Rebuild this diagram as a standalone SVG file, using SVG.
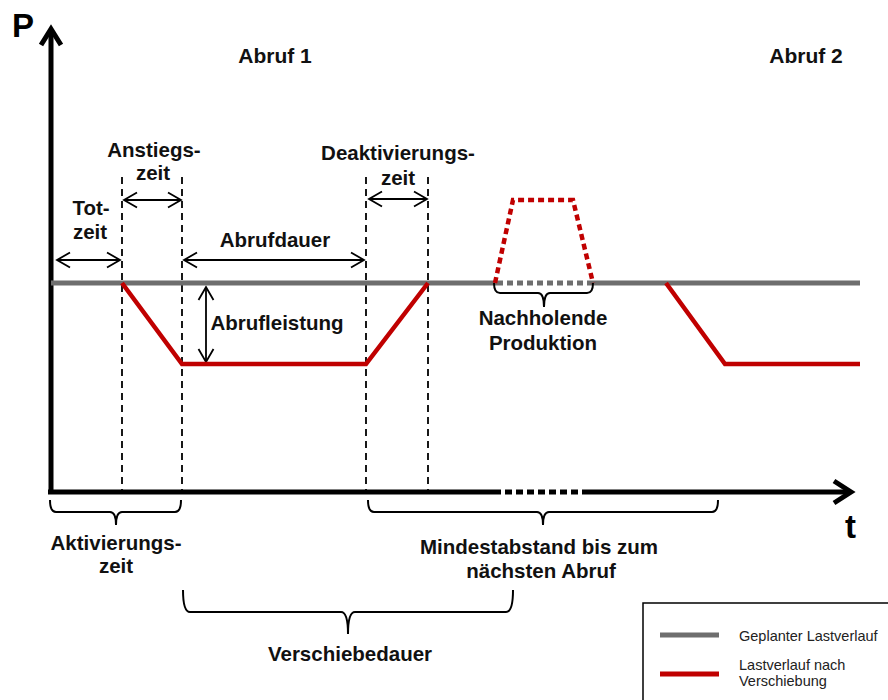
<svg xmlns="http://www.w3.org/2000/svg" width="888" height="700" viewBox="0 0 888 700">
<style>
.lbl{font-family:"Liberation Sans",Arial,Helvetica,sans-serif;font-weight:bold;font-size:20.5px;fill:#111;text-anchor:middle}
.big{font-family:"Liberation Sans",Arial,Helvetica,sans-serif;font-weight:bold;font-size:33px;fill:#000}
.leg{font-family:"Liberation Sans",Arial,Helvetica,sans-serif;font-size:14.5px;fill:#222}
.axis{stroke:#000;stroke-width:5;fill:none}
.grey{stroke:#6e6e6e;stroke-width:5;fill:none}
.red{stroke:#c00000;stroke-width:4.5;fill:none;stroke-linejoin:miter}
.dash{stroke:#000;stroke-width:1.8;stroke-dasharray:7 5;fill:none}
.dim{stroke:#000;stroke-width:1.8;fill:none;marker-start:url(#ah);marker-end:url(#ah)}
.brace{stroke:#000;stroke-width:2;fill:none}
</style>
<defs>
<marker id="ah" viewBox="-15 -10 17 20" refX="0" refY="0" markerWidth="17" markerHeight="20" markerUnits="userSpaceOnUse" orient="auto-start-reverse">
<path d="M-13,-7.5 L0,0 L-13,7.5" fill="none" stroke="#000" stroke-width="1.8"/>
</marker>
</defs>
<rect width="888" height="700" fill="#fff"/>

<g id="axes">
<line class="axis" x1="51" y1="492" x2="51" y2="29"/>
<polyline class="axis" points="41,45 51,29 61,45"/>
<line class="axis" x1="48" y1="492" x2="494" y2="492"/>
<line class="axis" x1="494" y1="492" x2="588" y2="492" style="stroke-dasharray:7 4"/>
<line class="axis" x1="588" y1="492" x2="850" y2="492"/>
<polyline class="axis" points="834,481 851,492 834,503"/>
<text class="big" x="12" y="37">P</text>
<text class="big" x="845" y="538">t</text>
</g>

<g id="connectors">
<line class="dash" x1="122" y1="177" x2="122" y2="490"/>
<line class="dash" x1="182" y1="177" x2="182" y2="490"/>
<line class="dash" x1="366" y1="177" x2="366" y2="490"/>
<line class="dash" x1="428" y1="177" x2="428" y2="490"/>
<line class="dim" x1="57" y1="260" x2="120" y2="260"/>
<line class="dim" x1="124" y1="200" x2="181" y2="200"/>
<line class="dim" x1="184" y1="260" x2="364" y2="260"/>
<line class="dim" x1="369" y1="199" x2="427" y2="199"/>
<line class="dim" x1="206" y1="287" x2="206" y2="362"/>
</g>

<g id="planned-load">
<line class="grey" x1="51" y1="283" x2="497" y2="283"/>
<line class="grey" x1="497" y1="283" x2="592" y2="283" style="stroke-dasharray:6 4"/>
<line class="grey" x1="592" y1="283" x2="860" y2="283"/>
</g>

<g id="shifted-load">
<polyline class="red" points="122,283 182,364 366,364 428,283"/>
<polyline class="red" points="495,283 513,200 573,200 593,283" style="stroke-dasharray:6 4"/>
<polyline class="red" points="666,283 725,364 860,364"/>
</g>

<g id="braces">
<path class="brace" d="M50,500 Q50,512 56,512 L110,512 Q116,512 116,525 Q116,512 122,512 L175,512 Q181,512 181,500"/>
<path class="brace" d="M368,500 Q368,512 374,512 L537,512 Q543,512 543,525 Q543,512 549,512 L712,512 Q718,512 718,500"/>
<path class="brace" d="M183,590 Q183,612 190,612 L341,612 Q348,612 348,634 Q348,612 355,612 L506,612 Q513,612 513,590"/>
<path class="brace" d="M494,283 Q494,293 500,293 L538,293 Q544,293 544,307 Q544,293 550,293 L587,293 Q593,293 593,283"/>
</g>

<g id="labels">
<text class="lbl" x="275" y="63" style="font-size:21px">Abruf 1</text>
<text class="lbl" x="806" y="63" style="font-size:21px">Abruf 2</text>
<text class="lbl" x="154" y="157">Anstiegs-</text>
<text class="lbl" x="153" y="180">zeit</text>
<text class="lbl" x="91" y="215">Tot-</text>
<text class="lbl" x="90" y="239">zeit</text>
<text class="lbl" x="275" y="247">Abrufdauer</text>
<text class="lbl" x="398" y="160">Deaktivierungs-</text>
<text class="lbl" x="398" y="185">zeit</text>
<text class="lbl" x="277" y="330">Abrufleistung</text>
<text class="lbl" x="543" y="325">Nachholende</text>
<text class="lbl" x="543" y="350">Produktion</text>
<text class="lbl" x="116" y="550">Aktivierungs-</text>
<text class="lbl" x="116" y="573">zeit</text>
<text class="lbl" x="539" y="554">Mindestabstand bis zum</text>
<text class="lbl" x="541" y="578">nächsten Abruf</text>
<text class="lbl" x="350" y="661">Verschiebedauer</text>
</g>

<g id="legend">
<rect x="643" y="603" width="260" height="110" fill="#fff" stroke="#000" stroke-width="1.5"/>
<line class="grey" x1="660" y1="635" x2="719" y2="635"/>
<line class="red" x1="660" y1="674" x2="719" y2="674" style="stroke-width:5"/>
<text class="leg" x="739" y="641">Geplanter Lastverlauf</text>
<text class="leg" x="739" y="670">Lastverlauf nach</text>
<text class="leg" x="739" y="686">Verschiebung</text>
</g>
</svg>
